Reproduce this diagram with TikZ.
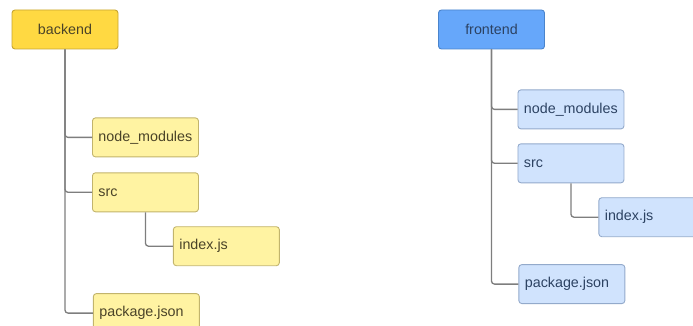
\documentclass[tikz,border=0pt]{standalone}
\usepackage{fontspec}
\setmainfont{Liberation Sans}
\usetikzlibrary{positioning}
\definecolor{jaune}{HTML}{FFD942}
\definecolor{bordjaune}{HTML}{C7A532}
\definecolor{jauneclair}{HTML}{FFF3A2}
\definecolor{bordjauneclair}{HTML}{C2B46C}
\definecolor{bleu}{HTML}{66A7FA}
\definecolor{bordbleu}{HTML}{4A84CC}
\definecolor{bleuclair}{HTML}{D0E3FD}
\definecolor{bordbleuclair}{HTML}{93AACB}
\definecolor{textejaune}{HTML}{4A4328}
\definecolor{textebleu}{HTML}{2C4262}
\definecolor{trait}{HTML}{7E7E7E}
\tikzset{
  boite/.style={rectangle, rounded corners=3pt, line width=0.9pt,
    minimum width=106pt, minimum height=39pt,
    font=\fontsize{14.3}{16}\selectfont},
  racinejaune/.style={boite, draw=bordjaune, fill=jaune, text=textejaune},
  racinebleue/.style={boite, draw=bordbleu, fill=bleu, text=textebleu},
  fichier/.style={boite, text width=94pt, inner xsep=6pt, align=left},
  fichierjaune/.style={fichier, draw=bordjauneclair, fill=jauneclair, text=textejaune},
  fichierbleu/.style={fichier, draw=bordbleuclair, fill=bleuclair, text=textebleu},
  lien/.style={draw=trait, line width=1.3pt, rounded corners=3pt},
}

\begin{document}
\begin{tikzpicture}[x=1pt, y=-1pt, node distance=14pt]
    \useasboundingbox (0,0) rectangle (693,326);
    \clip (0,0) rectangle (693,326);

    % backend
    \node[racinejaune] (backend) at (65,29.5) {backend};
    \node[fichierjaune, below=68pt of backend.south, anchor=north west, xshift=27pt] (bmodules) {node\_modules};
    \node[fichierjaune, below=15pt of bmodules] (bsrc) {src};
    \node[fichierjaune, below right=14pt and -26pt of bsrc] (bindex) {index.js};
    \node[fichierjaune, below=27pt of bindex, xshift=-80pt] (bpackage) {package.json};

    \draw[lien] (backend.south) |- (bpackage.west);
    \draw[lien] (backend.south) |- (bmodules.west);
    \draw[lien] (backend.south) |- (bsrc.west);
    \draw[lien] (bsrc.south) |- (bindex.west);

    % frontend
    \node[racinebleue] (frontend) at (491.5,29.5) {frontend};
    \node[fichierbleu, below=40pt of frontend.south, anchor=north west, xshift=26pt] (fmodules) {node\_modules};
    \node[fichierbleu, below=of fmodules] (fsrc) {src};
    \node[fichierbleu, below right=14pt and -26pt of fsrc] (findex) {index.js};
    \node[fichierbleu, below=27pt of findex, xshift=-80pt] (fpackage) {package.json};

    \draw[lien] (frontend.south) |- (fpackage.west);
    \draw[lien] (frontend.south) |- (fmodules.west);
    \draw[lien] (frontend.south) |- (fsrc.west);
    \draw[lien] (fsrc.south) |- (findex.west);
  \end{tikzpicture}
\end{document}
